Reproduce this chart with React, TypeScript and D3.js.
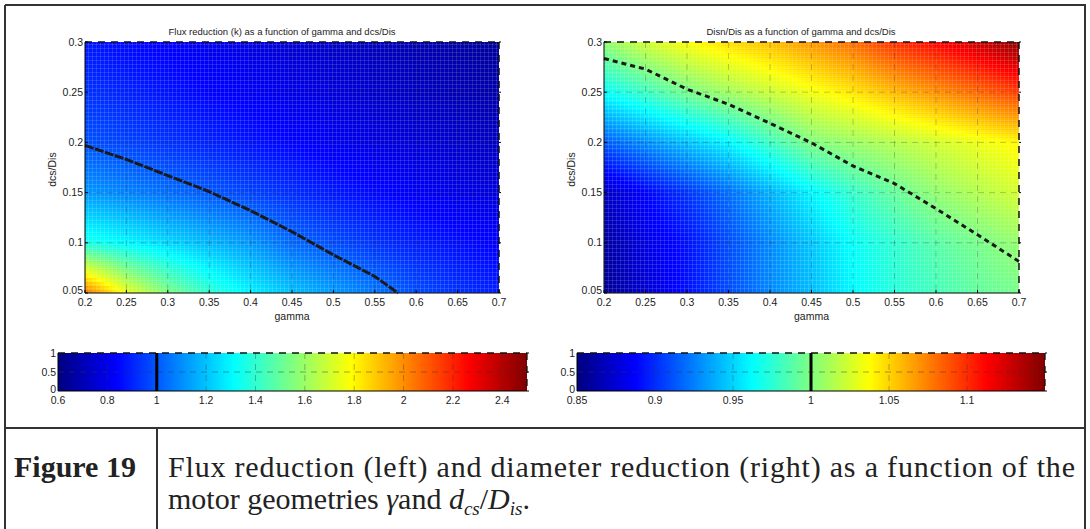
import React from 'react';
import * as d3 from 'd3';

// ---------- data ----------
const gammaGrid = [0.2, 0.25, 0.3, 0.35, 0.4, 0.45, 0.5, 0.55, 0.6, 0.65, 0.7];
const dcsGrid = [0.05, 0.1, 0.15, 0.2, 0.25, 0.3];

// Flux reduction k (rows follow dcsGrid, columns follow gammaGrid)
const fluxK = [
  [2.05, 1.75, 1.55, 1.40, 1.29, 1.20, 1.13, 1.06, 0.98, 0.93, 0.89],
  [1.36, 1.30, 1.24, 1.18, 1.12, 1.03, 0.98, 0.93, 0.89, 0.86, 0.83],
  [1.12, 1.08, 1.04, 1.00, 0.96, 0.92, 0.88, 0.85, 0.82, 0.79, 0.77],
  [0.99, 0.96, 0.93, 0.90, 0.87, 0.84, 0.81, 0.78, 0.76, 0.74, 0.72],
  [0.93, 0.90, 0.87, 0.84, 0.82, 0.79, 0.77, 0.74, 0.72, 0.70, 0.68],
  [0.88, 0.85, 0.83, 0.80, 0.78, 0.75, 0.73, 0.71, 0.69, 0.67, 0.65],
];

// Disn/Dis
const diamRatio = [
  [0.856, 0.874, 0.892, 0.910, 0.928, 0.943, 0.961, 0.973, 0.982, 0.991, 0.997],
  [0.860, 0.880, 0.892, 0.910, 0.928, 0.946, 0.964, 0.976, 0.988, 0.997, 1.006],
  [0.870, 0.888, 0.903, 0.920, 0.940, 0.960, 0.978, 0.992, 1.005, 1.015, 1.025],
  [0.915, 0.930, 0.945, 0.960, 0.980, 1.000, 1.008, 1.016, 1.024, 1.032, 1.040],
  [0.964, 0.980, 0.997, 1.010, 1.022, 1.034, 1.045, 1.058, 1.070, 1.082, 1.095],
  [1.005, 1.024, 1.037, 1.048, 1.057, 1.069, 1.081, 1.099, 1.112, 1.128, 1.147],
];

// k = 1 contour
const fluxContourGamma = [0.2, 0.25, 0.3, 0.35, 0.4, 0.45, 0.5, 0.55, 0.578];
const fluxContourDcs = [0.197, 0.183, 0.167, 0.151, 0.132, 0.111, 0.088, 0.0665, 0.05];
// Disn/Dis = 1 contour
const diamContourGamma = [0.2, 0.25, 0.3, 0.35, 0.4, 0.45, 0.5, 0.55, 0.6, 0.65, 0.7];
const diamContourDcs = [0.2835, 0.273, 0.253, 0.238, 0.219, 0.1996, 0.1765, 0.159, 0.134, 0.108, 0.0814];

const gammaTicks = [0.2, 0.25, 0.3, 0.35, 0.4, 0.45, 0.5, 0.55, 0.6, 0.65, 0.7];
const dcsTicks = [0.05, 0.1, 0.15, 0.2, 0.25, 0.3];
const fluxBarTicks = [0.6, 0.8, 1, 1.2, 1.4, 1.6, 1.8, 2, 2.2, 2.4];
const diamBarTicks = [0.85, 0.9, 0.95, 1, 1.05, 1.1];
const barYTicks = [0, 0.5, 1];
const fluxRange = [0.6, 2.5];
const diamRange = [0.85, 1.15];

// ---------- helpers ----------
const clamp = (v: number) => Math.max(0, Math.min(1, v));
function jet(t: number) {
  t = clamp(t);
  const r = clamp(1.5 - Math.abs(4 * t - 3));
  const g = clamp(1.5 - Math.abs(4 * t - 2));
  const b = clamp(1.5 - Math.abs(4 * t - 1));
  return d3.rgb(r * 255, g * 255, b * 255).formatHex();
}

const SANS = "'Liberation Sans', Arial, Helvetica, sans-serif";
const SERIF = "'Liberation Serif', 'Times New Roman', serif";
const fmt = (v: number) => String(+v.toFixed(3));

function Heat({ x0, x1, y0, y1, field, range, cg, cd, title, titleX, dash, ylabelX }: any) {
  const xs = d3.scaleLinear().domain([0.2, 0.7]).range([x0, x1]);
  const ys = d3.scaleLinear().domain([0.05, 0.3]).range([y1, y0]);
  const rowScales = field.map((row: number[]) => d3.scaleLinear().domain(gammaGrid).range(row));
  const cell = 4;
  const nx = Math.ceil((x1 - x0) / cell);
  const ny = Math.ceil((y1 - y0) / cell);
  const cells: any[] = [];
  for (let i = 0; i < nx; i++) {
    const px = x0 + i * cell;
    const g = xs.invert(Math.min(px + cell / 2, x1));
    const colVals = rowScales.map((s: any) => s(g));
    const colScale = d3.scaleLinear().domain(dcsGrid).range(colVals);
    for (let j = 0; j < ny; j++) {
      const py = y0 + j * cell;
      const d = ys.invert(Math.min(py + cell / 2, y1));
      const v = colScale(d);
      cells.push(
        <rect key={i + '_' + j} x={px} y={py} width={Math.min(cell, x1 - px) + 0.3}
          height={Math.min(cell, y1 - py) + 0.3} fill={jet((v - range[0]) / (range[1] - range[0]))} />
      );
    }
  }
  const line = d3.line<number>().x((_, i) => xs(cg[i])).y((_, i) => ys(cd[i]));
  return (
    <g>
      <g shapeRendering="crispEdges">{cells}</g>
      <rect x={x0} y={y0} width={x1 - x0} height={y1 - y0} fill="url(#mesh)" />
      {gammaTicks.slice(1, -1).map((t) => (
        <line key={'gx' + t} x1={xs(t)} x2={xs(t)} y1={y0} y2={y1} stroke="#333" strokeOpacity={0.35} strokeDasharray="6 5" strokeWidth={0.8} />
      ))}
      {dcsTicks.slice(1, -1).map((t) => (
        <line key={'gy' + t} x1={x0} x2={x1} y1={ys(t)} y2={ys(t)} stroke="#333" strokeOpacity={0.35} strokeDasharray="6 5" strokeWidth={0.8} />
      ))}
      <path d={line(cg) as string} fill="none" stroke="#1a1a1a" strokeWidth={3} strokeDasharray={dash} />
      <line x1={x0} x2={x1} y1={y0} y2={y0} stroke="#111" strokeWidth={1.5} strokeDasharray="7 6" />
      <line x1={x1} x2={x1} y1={y0} y2={y1} stroke="#111" strokeWidth={1.5} strokeDasharray="7 6" />
      <line x1={x0} x2={x1} y1={y1} y2={y1} stroke="#000" strokeWidth={1} />
      <line x1={x0} x2={x0} y1={y0} y2={y1} stroke="#000" strokeWidth={1} />
      {gammaTicks.map((t) => (
        <g key={'xt' + t}>
          <line x1={xs(t)} x2={xs(t)} y1={y1} y2={y1 - 3} stroke="#000" />
          <text x={xs(t)} y={y1 + 13} textAnchor="middle" fontSize={10.5} fontFamily={SANS} fill="#222">{fmt(t)}</text>
        </g>
      ))}
      {dcsTicks.map((t) => (
        <g key={'yt' + t}>
          <line x1={x0} x2={x0 + 3} y1={ys(t)} y2={ys(t)} stroke="#000" />
          <line x1={x1} x2={x1 + 2} y1={ys(t)} y2={ys(t)} stroke="#000" />
          <text x={x0 - 2} y={ys(t) + (t === 0.05 ? 1 : 3.5)} textAnchor="end" fontSize={10.5} fontFamily={SANS} fill="#222">{fmt(t)}</text>
        </g>
      ))}
      <text x={(x0 + x1) / 2} y={y1 + 27} textAnchor="middle" fontSize={10.5} fontFamily={SANS} fill="#222">gamma</text>
      <text transform={`translate(${ylabelX},${(y0 + y1) / 2 + 2}) rotate(-90)`} textAnchor="middle" fontSize={10.5} fontFamily={SANS} fill="#222">dcs/Dis</text>
      <text x={titleX} y={y0 - 7} textAnchor="middle" fontSize={9.5} fontFamily={SANS} fill="#222">{title}</text>
    </g>
  );
}

function ColorBar({ x0, x1, y0, y1, range, ticks }: any) {
  const xs = d3.scaleLinear().domain(range).range([x0, x1]);
  const ys = d3.scaleLinear().domain([0, 1]).range([y1, y0]);
  const n = Math.ceil((x1 - x0) / 2);
  const strips = d3.range(n).map((i) => {
    const px = x0 + i * 2;
    const v = xs.invert(px + 1);
    return <rect key={i} x={px} y={y0} width={Math.min(2, x1 - px) + 0.3} height={y1 - y0}
      fill={jet((v - range[0]) / (range[1] - range[0]))} />;
  });
  return (
    <g>
      <g shapeRendering="crispEdges">{strips}</g>
      {ticks.filter((t: number) => xs(t) > x0 + 1).map((t: number) => (
        <line key={'g' + t} x1={xs(t)} x2={xs(t)} y1={y0} y2={y1} stroke="#333" strokeOpacity={0.45} strokeDasharray="6 5" strokeWidth={0.8} />
      ))}
      <line x1={x0} x2={x1} y1={ys(0.5)} y2={ys(0.5)} stroke="#333" strokeOpacity={0.55} strokeDasharray="6 5" strokeWidth={0.8} />
      <line x1={xs(1)} x2={xs(1)} y1={y0} y2={y1} stroke="#000" strokeWidth={3} />
      <line x1={x0} x2={x1} y1={y0} y2={y0} stroke="#111" strokeWidth={1.3} strokeDasharray="7 6" />
      <line x1={x1} x2={x1} y1={y0} y2={y1} stroke="#111" strokeWidth={1.3} strokeDasharray="7 6" />
      <line x1={x0} x2={x1} y1={y1} y2={y1} stroke="#000" />
      <line x1={x0} x2={x0} y1={y0} y2={y1} stroke="#000" />
      {ticks.map((t: number) => (
        <text key={'t' + t} x={xs(t)} y={y1 + 13} textAnchor="middle" fontSize={10.5} fontFamily={SANS} fill="#222">{fmt(t)}</text>
      ))}
      {barYTicks.map((t) => (
        <g key={'y' + t}>
          <line x1={x1} x2={x1 + 2} y1={ys(t)} y2={ys(t)} stroke="#000" />
          <text x={x0 - 2} y={ys(t) + (t === 0 ? 1.5 : 3.5)} textAnchor="end" fontSize={10.5} fontFamily={SANS} fill="#222">{fmt(t)}</text>
        </g>
      ))}
    </g>
  );
}

export default function App() {
  return (
    <svg width={1090} height={529} style={{ position: 'absolute', left: 0, top: 0, background: '#fff' }}>
      <defs>
        <pattern id="mesh" width={4} height={4} patternUnits="userSpaceOnUse">
          <path d="M0 0.5 H4 M0.5 0 V4" stroke="#fff" strokeOpacity={0.16} strokeWidth={0.8} />
        </pattern>
      </defs>
      <rect x={0} y={0} width={1090} height={529} fill="#fff" />
      <Heat x0={85} x1={499} y0={42} y1={293} field={fluxK} range={fluxRange}
        cg={fluxContourGamma} cd={fluxContourDcs} dash="9 1.5" ylabelX={56}
        title="Flux reduction (k) as a function of gamma and dcs/Dis" titleX={282} />
      <Heat x0={604} x1={1019} y0={42} y1={293} field={diamRatio} range={diamRange}
        cg={diamContourGamma} cd={diamContourDcs} dash="5 4" ylabelX={575}
        title="Disn/Dis as a function of gamma and dcs/Dis" titleX={801} />
      <ColorBar x0={58} x1={527} y0={353} y1={391} range={fluxRange} ticks={fluxBarTicks} />
      <ColorBar x0={577} x1={1045} y0={353} y1={391} range={diamRange} ticks={diamBarTicks} />

      {/* table frame */}
      <g stroke="#333" strokeWidth={2} fill="none">
        <line x1={5} x2={1086} y1={5} y2={5} />
        <line x1={5} x2={5} y1={5} y2={529} />
        <line x1={1085} x2={1085} y1={5} y2={529} />
        <line x1={5} x2={1086} y1={428} y2={428} />
        <line x1={157} x2={157} y1={428} y2={529} />
      </g>
      <text x={14} y={477} fontSize={30} fontWeight="bold" fontFamily={SERIF} fill="#222">Figure 19</text>
      <text x={168} y={477} fontSize={30} fontFamily={SERIF} fill="#222" textLength={907} lengthAdjust="spacing">
        Flux reduction (left) and diameter reduction (right) as a function of the
      </text>
      <text x={168} y={509} fontSize={30} fontFamily={SERIF} fill="#222">
        motor geometries <tspan fontStyle="italic">γ</tspan>and <tspan fontStyle="italic">d</tspan>
        <tspan fontStyle="italic" fontSize={19} dy={6}>cs</tspan>
        <tspan dy={-6}>/</tspan><tspan fontStyle="italic">D</tspan>
        <tspan fontStyle="italic" fontSize={19} dy={6}>is</tspan>
        <tspan dy={-6}>.</tspan>
      </text>
    </svg>
  );
}
